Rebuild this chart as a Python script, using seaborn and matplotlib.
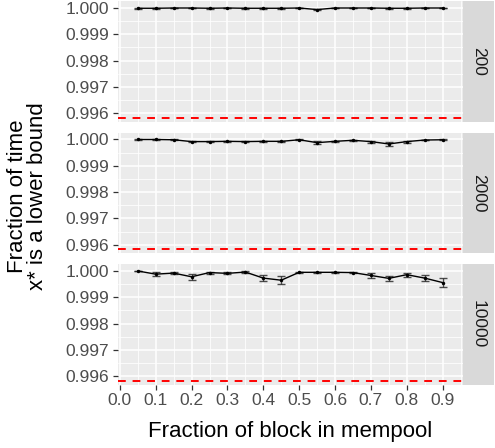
import numpy as np
import pandas as pd
import matplotlib
matplotlib.use("Agg")
import matplotlib.pyplot as plt
import seaborn as sns
from matplotlib.ticker import FixedLocator

# ---- data ----
fractions = [0.05, 0.10, 0.15, 0.20, 0.25, 0.30, 0.35, 0.40, 0.45,
             0.50, 0.55, 0.60, 0.65, 0.70, 0.75, 0.80, 0.85, 0.90]
sizes = ["200", "2000", "10000"]
y200 = [0.99999, 0.99999, 1.0, 1.0, 0.99999, 1.0, 0.99999, 0.99999, 0.99999,
        1.0, 0.99994, 1.0, 1.0, 1.0, 0.99999, 0.99999, 1.0, 1.0]
e200 = [0.00001, 0.00001, 0.0, 0.0, 0.00001, 0.0, 0.00001, 0.00001, 0.00001,
        0.0, 0.00003, 0.0, 0.0, 0.0, 0.00001, 0.00001, 0.0, 0.0]
y2000 = [1.0, 1.0, 0.99999, 0.99992, 0.99992, 0.99993, 0.99992, 0.99993, 0.99993,
         0.99999, 0.99988, 0.99993, 0.99997, 0.99992, 0.99983, 0.99992, 0.99998, 0.99999]
e2000 = [0.00001, 0.00001, 0.00001, 0.00003, 0.00003, 0.00003, 0.00003, 0.00003, 0.00003,
         0.00001, 0.00006, 0.00003, 0.00002, 0.00004, 0.00007, 0.00004, 0.00001, 0.00001]
y10000 = [1.0, 0.99988, 0.99992, 0.99978, 0.99994, 0.99991, 0.99996, 0.99973, 0.99965,
          0.99995, 0.99995, 0.99995, 0.99994, 0.99983, 0.99972, 0.99986, 0.99973, 0.99956]
e10000 = [0.0, 0.00007, 0.00005, 0.00012, 0.00004, 0.00004, 0.00003, 0.00012, 0.00015,
          0.00003, 0.00003, 0.00003, 0.00003, 0.00008, 0.00010, 0.00007, 0.00010, 0.00017]
threshold = 0.99583
x_ticks = [0.0, 0.1, 0.2, 0.3, 0.4, 0.5, 0.6, 0.7, 0.8, 0.9]
y_ticks = [0.996, 0.997, 0.998, 0.999, 1.000]

df = pd.concat([
    pd.DataFrame({"frac": fractions, "val": v, "err": e, "n": s})
    for s, v, e in zip(sizes, [y200, y2000, y10000], [e200, e2000, e10000])
], ignore_index=True)

# ---- style ----
sns.set_theme(style="darkgrid")
plt.rcParams["font.family"] = ["Liberation Sans", "DejaVu Sans"]

W, H = 495, 448
fig = plt.figure(figsize=(W / 100, H / 100), dpi=100)
fig.patch.set_facecolor("white")

left_px, right_px = 117.7, 462.7
panel_h = 121.0
tops = [1.0, 132.5, 264.0]
strip_w = 31.5
ylo, yhi = 0.995666, 1.000266
xlo, xhi = -0.006, 0.956
tick_fs = 12.5

for i, (size, top) in enumerate(zip(sizes, tops)):
    ax = fig.add_axes([left_px / W, 1 - (top + panel_h) / H,
                       (right_px - left_px) / W, panel_h / H])
    ax.set_facecolor("#EBEBEB")
    sub = df[df["n"] == size]
    ax.axhline(threshold, color="#FF0000", lw=1.4, ls=(0, (4, 3.5)), zorder=2)
    ax.errorbar(sub["frac"], sub["val"], yerr=sub["err"], fmt="none",
                ecolor="#222222", elinewidth=1.0, capsize=2.6, capthick=1.0,
                alpha=0.8, zorder=3)
    sns.lineplot(data=sub, x="frac", y="val", ax=ax, color="black", lw=1.0,
                 marker="o", markersize=2.5, markeredgewidth=0, zorder=4,
                 errorbar=None, legend=False)
    ax.set_xlim(xlo, xhi)
    ax.set_ylim(ylo, yhi)
    ax.xaxis.set_major_locator(FixedLocator(x_ticks))
    ax.xaxis.set_minor_locator(FixedLocator([t + 0.05 for t in x_ticks]))
    ax.yaxis.set_major_locator(FixedLocator(y_ticks))
    ax.yaxis.set_minor_locator(FixedLocator([t + 0.0005 for t in [0.9955] + y_ticks]))
    ax.grid(which="major", color="white", lw=1.1)
    ax.grid(which="minor", color="white", lw=0.55)
    ax.set_axisbelow(True)
    for sp in ax.spines.values():
        sp.set_visible(False)
    ax.set_yticklabels([f"{t:.3f}" for t in y_ticks], fontsize=tick_fs, color="#4D4D4D")
    ax.tick_params(axis="y", which="major", length=3.5, width=0.9, color="#333333",
                   pad=3, left=True)
    ax.tick_params(which="minor", length=0)
    if i == 2:
        ax.set_xticklabels([f"{t:.1f}" for t in x_ticks], fontsize=tick_fs, color="#4D4D4D")
        ax.tick_params(axis="x", which="major", length=3.5, width=0.9, color="#333333",
                       pad=2.5, bottom=True)
    else:
        ax.set_xticklabels([])
        ax.tick_params(axis="x", which="major", length=0)
    ax.set_xlabel("")
    ax.set_ylabel("")
    # strip
    sax = fig.add_axes([right_px / W, 1 - (top + panel_h) / H, strip_w / W, panel_h / H])
    sax.set_facecolor("#D9D9D9")
    sax.set_xticks([])
    sax.set_yticks([])
    for sp in sax.spines.values():
        sp.set_visible(False)
    sax.text(0.5, 0.5, size, rotation=-90, ha="center", va="center",
             fontsize=tick_fs, color="#1A1A1A", transform=sax.transAxes)

fig.text(290.5 / W, 1 - 437 / H, "Fraction of block in mempool",
         ha="center", va="baseline", fontsize=16, color="black")
fig.text(27.5 / W, 1 - 196 / H, "Fraction of time\nx* is a lower bound",
         ha="center", va="center", rotation=90, fontsize=16, color="black",
         linespacing=0.95)

fig.savefig("out.png", dpi=100)
